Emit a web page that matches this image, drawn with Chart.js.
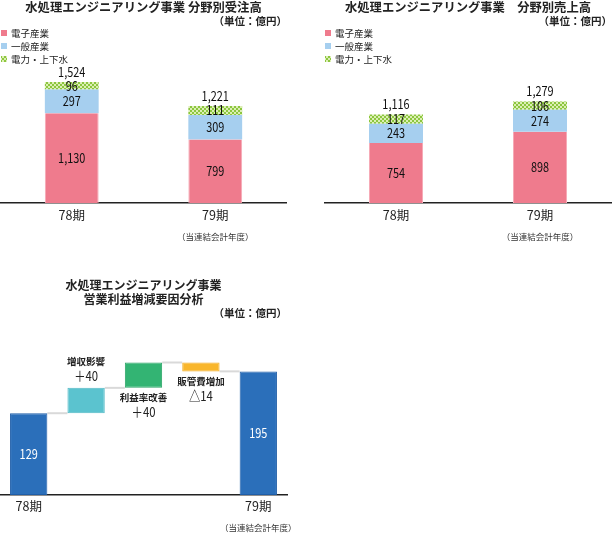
<!DOCTYPE html>
<html><head><meta charset="utf-8">
<script src="https://cdn.jsdelivr.net/npm/chart.js@4.4.1/dist/chart.umd.min.js"></script>
<style>
html,body{margin:0;padding:0;background:#fff;width:612px;height:533px;overflow:hidden;position:relative}
.box{position:absolute}
</style></head><body>
<div class="box" style="left:0;top:0;width:287px;height:245px"><canvas id="c1"></canvas></div>
<div class="box" style="left:324px;top:0;width:288px;height:245px"><canvas id="c2"></canvas></div>
<div class="box" style="left:0;top:270px;width:297px;height:263px"><canvas id="c3"></canvas></div>
<script>
const periods = ['78期', '79期'];
const periodNotes = ['', '（当連結会計年度）'];
const segments = ['電子産業', '一般産業', '電力・上下水'];
const ordersElectronics = [1130, 799];
const ordersGeneral = [297, 309];
const ordersPower = [96, 111];
const ordersTotal = [1524, 1221];
const salesElectronics = [754, 898];
const salesGeneral = [243, 274];
const salesPower = [117, 106];
const salesTotal = [1116, 1279];
const bridgeCategories = ['78期', '増収影響', '利益率改善', '販管費増加', '79期'];
const bridgeTickLabels = ['78期', '', '', '', '79期'];
const bridgeNames = ['', '増収影響', '利益率改善', '販管費増加', ''];
const bridgeValues = [129, 40, 40, -14, 195];
const bridgeValueLabels = ['129', '＋40', '＋40', '△14', '195'];
const bridgeNotes = ['', '', '', '', '（当連結会計年度）'];

const NUM = '"Liberation Sans Narrow", "Noto Sans CJK JP", sans-serif';
const JP = '"Noto Sans CJK JP", sans-serif';
const fmt = v => v.toLocaleString('en-US');

function condText(ctx, text, x, y, size, color) {
  ctx.save();
  ctx.font = size + 'px ' + JP;
  ctx.fillStyle = color;
  ctx.textAlign = 'center'; ctx.textBaseline = 'middle';
  ctx.translate(x, y); ctx.scale(0.84, 1);
  ctx.fillText(text, 0, 0);
  ctx.restore();
}

function checker() {
  const c = document.createElement('canvas'); c.width = 4; c.height = 4;
  const x = c.getContext('2d');
  x.fillStyle = '#dcefb4'; x.fillRect(0, 0, 4, 4);
  x.fillStyle = '#8cc63f'; x.fillRect(0, 0, 2, 2); x.fillRect(2, 2, 2, 2);
  return x.createPattern(c, 'repeat');
}

const stackLabels = {
  id: 'stackLabels',
  afterDatasetsDraw(chart, args, opts) {
    const ctx = chart.ctx;
    chart.data.datasets.forEach((ds, di) => {
      chart.getDatasetMeta(di).data.forEach((bar, i) => {
        condText(ctx, fmt(ds.data[i]), bar.x, (bar.y + bar.base) / 2, 13, '#111');
      });
    });
    const last = chart.getDatasetMeta(chart.data.datasets.length - 1);
    opts.totals.forEach((t, i) => {
      const bar = last.data[i];
      condText(ctx, fmt(t), bar.x, bar.y - 10, 13, '#111');
    });
    ctx.save();
    ctx.textAlign = 'center'; ctx.textBaseline = 'middle';
    const xs = chart.scales.x;
    ctx.font = '8.5px ' + JP; ctx.fillStyle = '#333';
    opts.notes.forEach((n, i) => { if (n) ctx.fillText(n, xs.getPixelForTick(i), xs.bottom + 8.5); });
    // legend
    const lx = chart.chartArea.left + opts.legendX;
    ctx.textAlign = 'left';
    ctx.font = '9.5px ' + JP;
    chart.data.datasets.forEach((ds, i) => {
      const y = opts.legendTop + i * opts.legendStep;
      ctx.fillStyle = ds.backgroundColor;
      ctx.fillRect(lx, y - 3, 6, 6);
      ctx.fillStyle = '#222';
      ctx.fillText(ds.label, lx + 10, y);
    });
    ctx.restore();
  }
};

function stackedChart(id, title, e, g, p, totals) {
  return new Chart(document.getElementById(id), {
    type: 'bar',
    data: {
      labels: periods,
      datasets: [
        { label: segments[0], data: e, backgroundColor: '#ef7b8d', borderColor: '#f6aab6', borderWidth: { left: 1, right: 1, top: 0, bottom: 0 } },
        { label: segments[1], data: g, backgroundColor: '#a6cfef', borderWidth: 0 },
        { label: segments[2], data: p, backgroundColor: checker(), borderWidth: 0 }
      ]
    },
    options: {
      responsive: true, maintainAspectRatio: false, animation: false,
      layout: { padding: { left: 0, right: 0, top: 0, bottom: 17 } },
      datasets: { bar: { categoryPercentage: 1, barPercentage: 0.375 } },
      scales: {
        x: { stacked: true, grid: { display: false, drawTicks: false },
             border: { display: true, color: '#222', width: 1.5 },
             ticks: { font: { size: 12.5, family: NUM }, color: '#222', padding: 5 } },
        y: { stacked: true, display: false, min: 0, max: 2210 }
      },
      plugins: {
        title: { display: true, text: title, color: '#222', font: { size: 12.3, family: JP, weight: 'bold' }, padding: { top: 0, bottom: 0 } },
        subtitle: { display: true, text: '（単位：億円）', align: 'end', color: '#222', font: { size: 10.5, family: JP, weight: 'bold' }, padding: { top: 0, bottom: 0 } },
        legend: { display: false },
        tooltip: { enabled: false },
        stackLabels: { totals: totals, notes: periodNotes, legendTop: 33, legendStep: 13, legendX: 1 }
      }
    },
    plugins: [stackLabels]
  });
}

stackedChart('c1', '水処理エンジニアリング事業 分野別受注高', ordersElectronics, ordersGeneral, ordersPower, ordersTotal);
stackedChart('c2', '水処理エンジニアリング事業　分野別売上高', salesElectronics, salesGeneral, salesPower, salesTotal);

// waterfall
let run = 0;
const levels = [];
const floating = bridgeValues.map((v, i) => {
  if (i === 0) { run = v; levels.push(run); return [0, v]; }
  if (i === bridgeValues.length - 1) { return [0, v]; }
  const a = run; run += v; levels.push(run);
  return [Math.min(a, run), Math.max(a, run)];
});

const bridgePlugin = {
  id: 'bridge',
  beforeDatasetsDraw(chart) {
    const ctx = chart.ctx, ys = chart.scales.y;
    const bars = chart.getDatasetMeta(0).data;
    ctx.save(); ctx.strokeStyle = '#d9d9d9'; ctx.lineWidth = 2;
    levels.forEach((lv, i) => {
      const a = bars[i], b = bars[i + 1];
      const y = ys.getPixelForValue(lv);
      ctx.beginPath(); ctx.moveTo(a.x + a.width / 2, y); ctx.lineTo(b.x - b.width / 2, y); ctx.stroke();
    });
    ctx.restore();
  },
  afterDatasetsDraw(chart, args, opts) {
    const ctx = chart.ctx;
    const bars = chart.getDatasetMeta(0).data;
    bars.forEach((bar, i) => {
      const top = Math.min(bar.y, bar.base), bot = Math.max(bar.y, bar.base);
      const place = opts.place[i];
      ctx.save();
      ctx.textAlign = 'center'; ctx.textBaseline = 'middle';
      if (place === 'inside') {
        condText(ctx, bridgeValueLabels[i], bar.x, (top + bot) / 2, 13, '#fff');
      } else if (place === 'above') {
        condText(ctx, bridgeValueLabels[i], bar.x, top - 11.5, 13.5, '#222');
        ctx.fillStyle = '#222'; ctx.font = 'bold 9.5px ' + JP;
        ctx.fillText(bridgeNames[i], bar.x, top - 26.5);
      } else {
        ctx.fillStyle = '#222'; ctx.font = 'bold 9.5px ' + JP;
        ctx.fillText(bridgeNames[i], bar.x, bot + 10);
        condText(ctx, bridgeValueLabels[i], bar.x, bot + 24.5, 13.5, '#222');
      }
      ctx.restore();
    });
    ctx.save();
    ctx.textAlign = 'center'; ctx.textBaseline = 'middle';
    const xs = chart.scales.x;
    ctx.font = '8.5px ' + JP; ctx.fillStyle = '#333';
    bridgeNotes.forEach((n, i) => { if (n) ctx.fillText(n, xs.getPixelForTick(i), xs.bottom + 10); });
    ctx.restore();
  }
};

new Chart(document.getElementById('c3'), {
  type: 'bar',
  data: {
    labels: bridgeCategories,
    datasets: [{
      label: '営業利益', data: floating,
      backgroundColor: ['#2b6fba', '#5bc3cf', '#33b473', '#f9b62b', '#2b6fba'],
      borderColor: ['#1f5ea8', '#52b9c5', '#2aa466', '#f3ad20', '#1f5ea8'],
      borderWidth: 1, borderSkipped: false
    }]
  },
  options: {
    responsive: true, maintainAspectRatio: false, animation: false,
    layout: { padding: { left: 0, right: 10, top: 0, bottom: 15 } },
    datasets: { bar: { categoryPercentage: 1, barPercentage: 0.65 } },
    scales: {
      x: { grid: { display: false, drawTicks: false },
           border: { display: true, color: '#222', width: 1.5 },
           ticks: { font: { size: 12.5, family: NUM }, color: '#222', padding: 4,
                    callback: (v, i) => bridgeTickLabels[i] } },
      y: { display: false, min: 0, max: 277 }
    },
    plugins: {
      title: { display: true, text: ['水処理エンジニアリング事業', '営業利益増減要因分析'], color: '#222', font: { size: 12, family: JP, weight: 'bold' }, padding: { top: 8, bottom: 0 } },
      subtitle: { display: true, text: '（単位：億円）', align: 'end', color: '#222', font: { size: 10.5, family: JP, weight: 'bold' }, padding: { top: 0, bottom: 0 } },
      legend: { display: false },
      tooltip: { enabled: false },
      bridge: { place: ['inside', 'above', 'below', 'below', 'inside'] }
    }
  },
  plugins: [bridgePlugin]
});
</script>
</body></html>
